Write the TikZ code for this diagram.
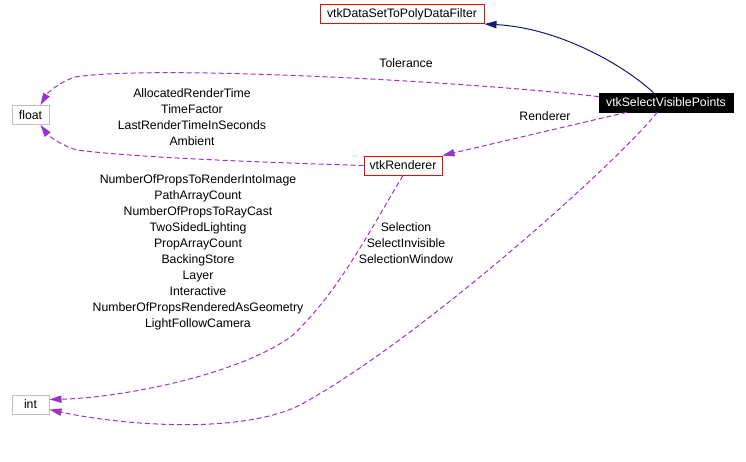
\documentclass[tikz,border=0pt]{standalone}
\usepackage{fontspec}
\setmainfont{Liberation Sans}
\usetikzlibrary{arrows.meta}
\definecolor{memberpurple}{HTML}{9A32CD}
\definecolor{inheritblue}{HTML}{191970}
\definecolor{plaingrey}{HTML}{BFBFBF}
\begin{document}
\begin{tikzpicture}[x=0.75pt,y=-0.75pt,
  font=\fontsize{9.2}{12}\selectfont,
  klass/.style={draw=red,line width=0.75pt,inner sep=1pt,minimum height=14.25pt},
  builtin/.style={draw=plaingrey,line width=0.75pt,inner sep=1pt,minimum width=27.75pt,minimum height=14.25pt},
  focus/.style={draw=black,fill=black,text=white,inner sep=1pt,minimum width=100.5pt,minimum height=14.25pt},
  inherit/.style={-{Triangle[length=9pt,width=5.5pt]},draw=inheritblue,line width=0.75pt},
  member/.style={-{Triangle[length=9pt,width=5.5pt]},draw=memberpurple,line width=0.75pt,dash pattern=on 3.75pt off 2.25pt},
  lbl/.style={align=center,inner sep=0pt}]
  \useasboundingbox (0,0) rectangle (746,461);
  \node[klass,minimum width=123pt] (dsf) at (402,14) {vtkDataSetToPolyDataFilter};
  \node[focus] (vsp) at (666,102.5) {vtkSelectVisiblePoints};
  \node[builtin] (float) at (30.5,115) {float};
  \node[klass,minimum width=58.5pt] (rnd) at (403,165.5) {vtkRenderer};
  \node[builtin] (int) at (30.5,404.5) {int};
  \draw[inherit] (vsp.142) .. controls (625,66) and (560,28) .. (dsf.south east);
  \draw[member] (vsp.175) .. controls (450,80) and (150,65) .. (75,77) .. controls (60,82) and (48,92) .. (float.45);
  \draw[member] (vsp.194) -- (rnd.north east);
  \draw[member] (rnd.west) .. controls (250,162) and (130,157) .. (77,150) .. controls (60,145) and (48,135) .. (float.-45);
  \draw[member] (rnd.south) .. controls (370,230) and (340,290) .. (293,335) .. controls (240,375) and (120,398) .. (int.15);
  \draw[member] (vsp.228) .. controls (620,160) and (420,340) .. (300,405) .. controls (240,435) and (120,425) .. (int.-15);
  \node[lbl] (tol) at (406,63) {Tolerance};
  \node[lbl] (rlbl) at (545,116) {Renderer};
  \node[lbl] (flbl) at (192,117.5) {AllocatedRenderTime\\TimeFactor\\LastRenderTimeInSeconds\\Ambient};
  \node[lbl] (ilbl) at (198,252) {NumberOfPropsToRenderIntoImage\\PathArrayCount\\NumberOfPropsToRayCast\\TwoSidedLighting\\PropArrayCount\\BackingStore\\Layer\\Interactive\\NumberOfPropsRenderedAsGeometry\\LightFollowCamera};
  \node[lbl] (slbl) at (406,243.5) {Selection\\SelectInvisible\\SelectionWindow};
\end{tikzpicture}
\end{document}
